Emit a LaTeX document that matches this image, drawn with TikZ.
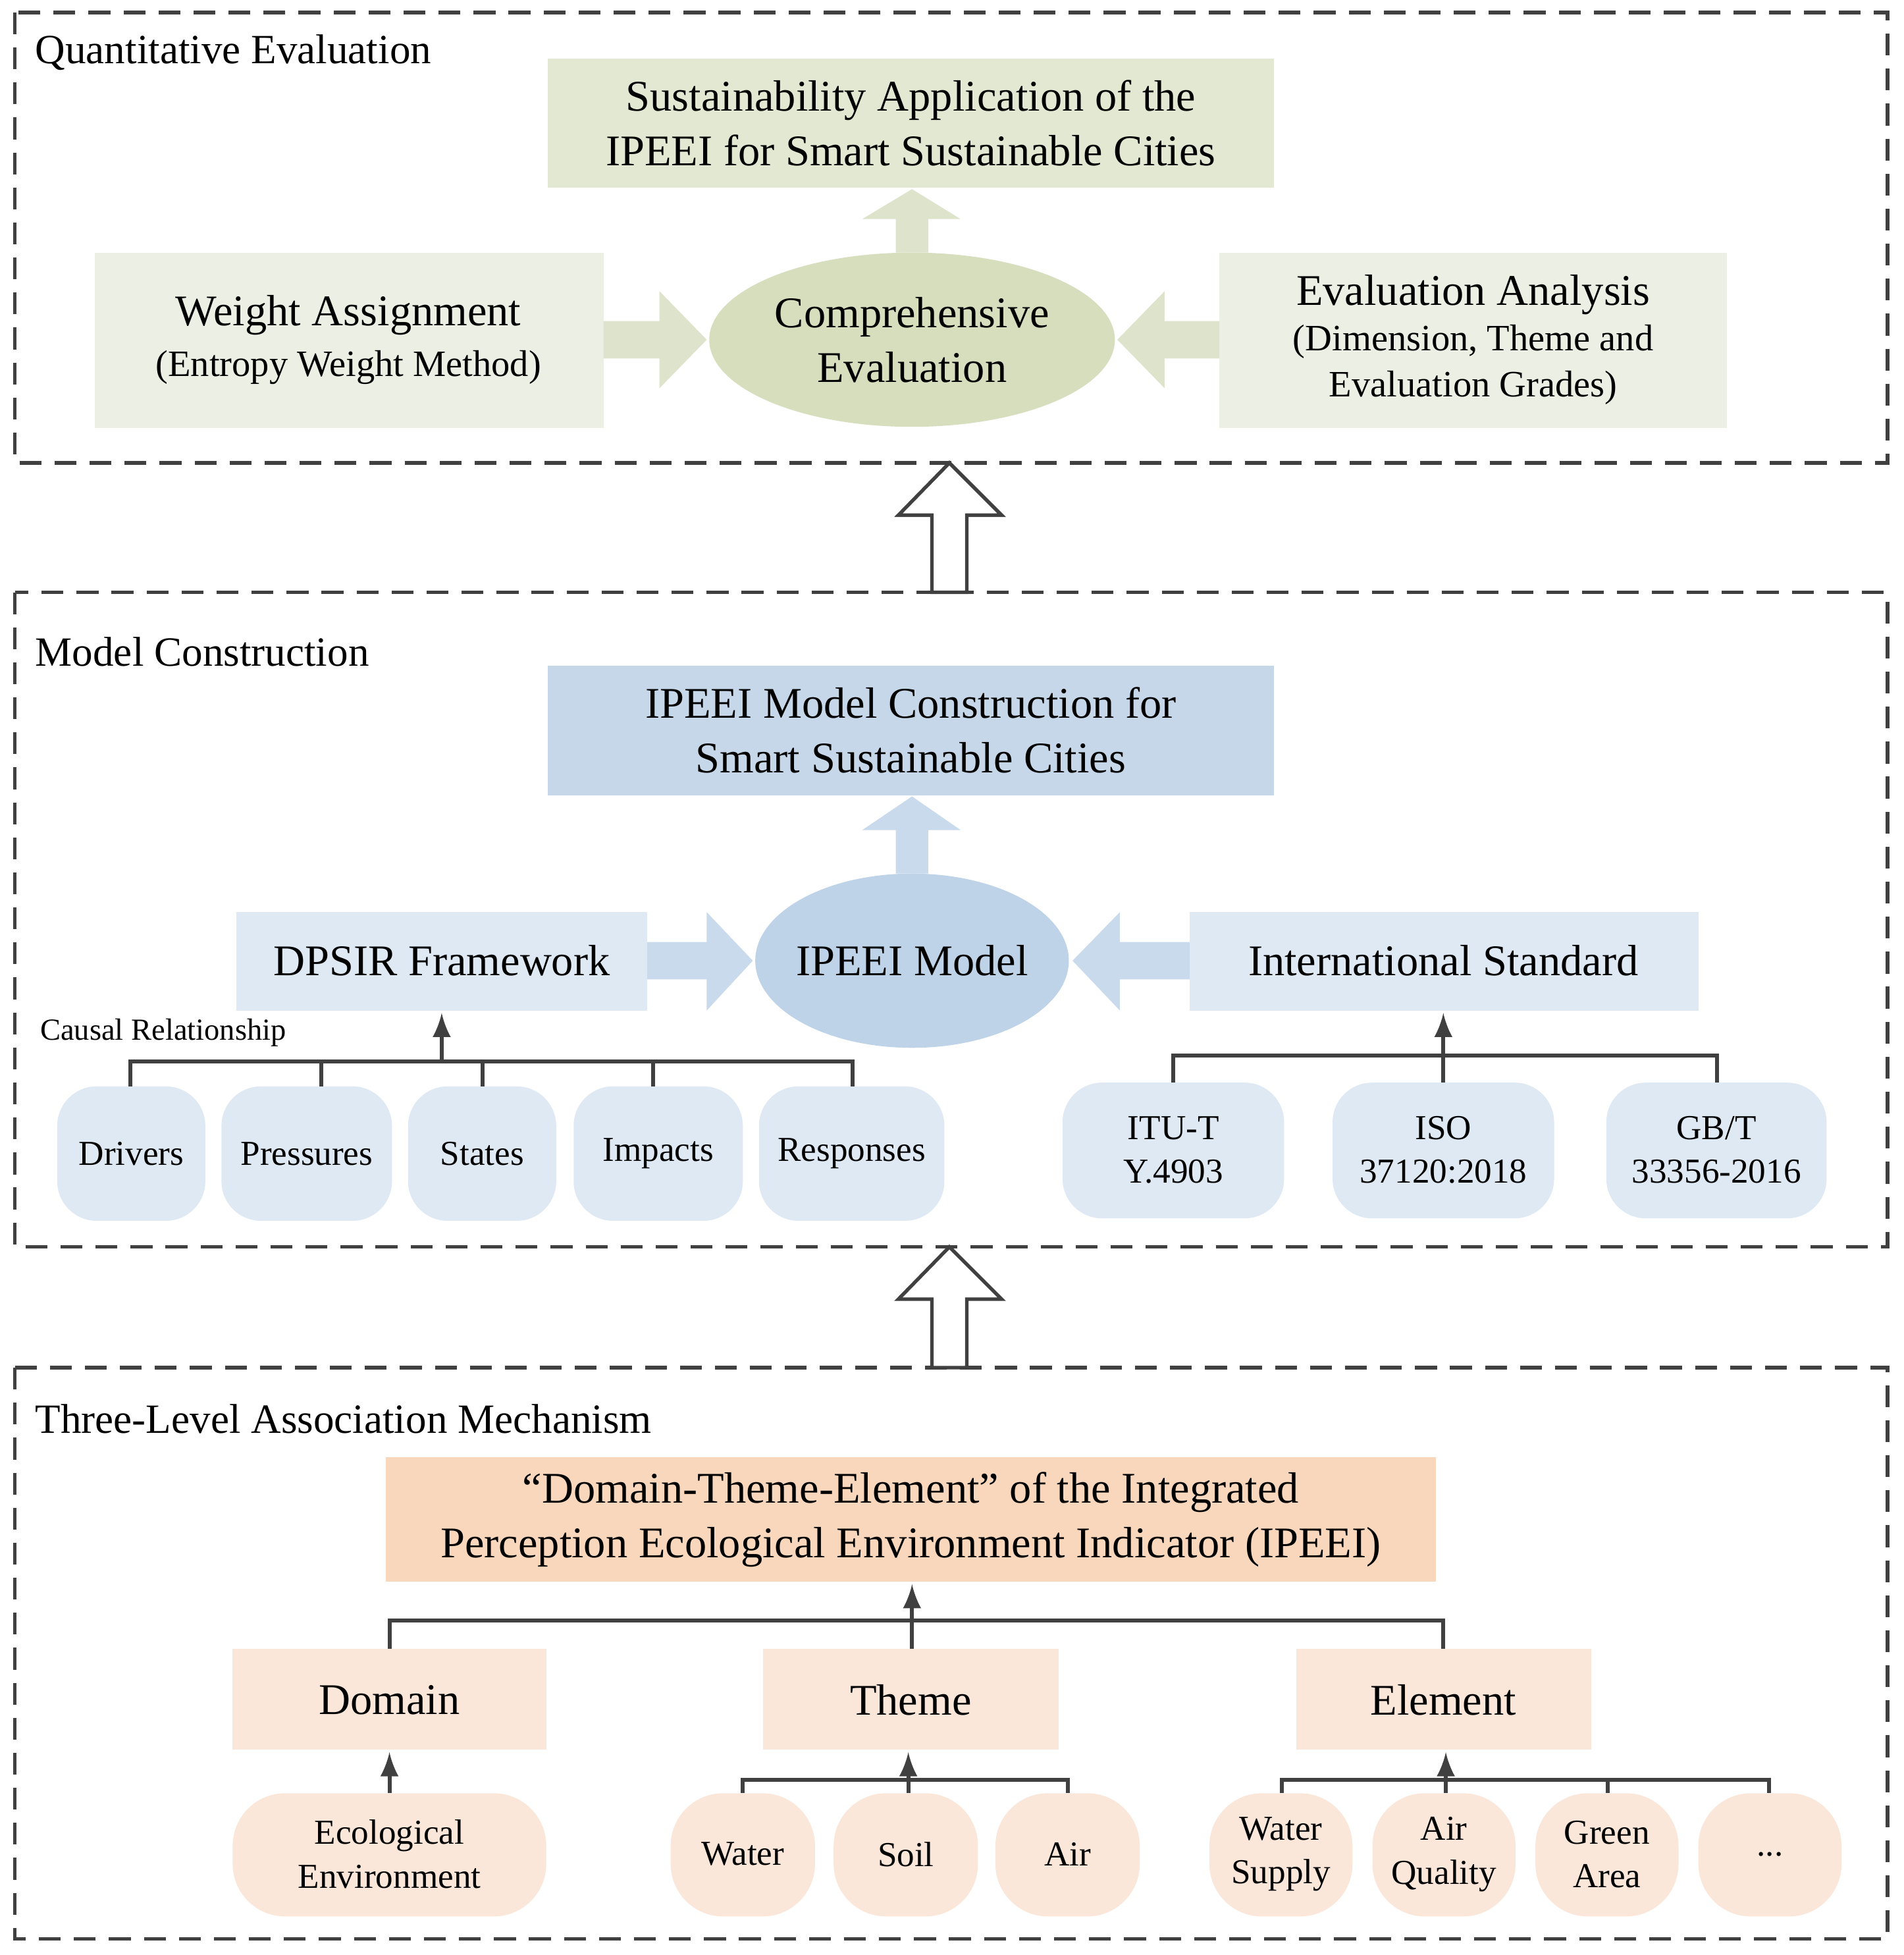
\documentclass[tikz,border=0pt]{standalone}
\usepackage{fontspec}
\setmainfont{Liberation Serif}
\usetikzlibrary{shapes.geometric}
\definecolor{gA}{RGB}{226,232,210}
\definecolor{gB}{RGB}{236,240,228}
\definecolor{gC}{RGB}{214,222,190}
\definecolor{gD}{RGB}{222,228,204}
\definecolor{bA}{RGB}{197,215,232}
\definecolor{bB}{RGB}{222,233,244}
\definecolor{bC}{RGB}{190,211,232}
\definecolor{bD}{RGB}{200,218,235}
\definecolor{oA}{RGB}{248,215,188}
\definecolor{oB}{RGB}{250,231,217}
\definecolor{ln}{RGB}{64,64,64}
\newcommand{\fz}[1]{\fontsize{#1pt}{\dimexpr #1pt*5/4\relax}\selectfont}
\tikzset{
 x=0.01cm,y=-0.01cm,
 frame/.style={draw=ln,dashed,line width=0.8pt,dash pattern=on 5pt off 3pt},
 title/.style={anchor=west,font=\fz{9.5}},
 box/.style={inner sep=0pt,align=center,font=\fz{10}},
 tree/.style={draw=ln,line width=0.9pt},
 up/.style={tree,-latex},
 hollow/.style={draw=ln,fill=white,line width=0.8pt},
}
\begin{document}
\begin{tikzpicture}
\useasboundingbox (0,0) rectangle (1530,1571);
\fill[white] (0,0) rectangle (1530,1571);
% frames
\draw[frame] (12,10) rectangle (1517,372);
\draw[frame] (12,476) rectangle (1517,1002);
\draw[frame] (12,1099) rectangle (1517,1558);
\node[title] (t1) at (16,42) {Quantitative Evaluation};
\node[title] (t2) at (16,524) {Model Construction};
\node[title] (t3) at (16,1140) {Three-Level Association Mechanism};
% hollow arrows
\draw[hollow] (749,476)--(749,414)--(722,414)--(763,372)--(805,414)--(777,414)--(777,476)--cycle;
\draw[hollow] (749,1099)--(749,1044)--(722,1044)--(763,1002)--(805,1044)--(777,1044)--(777,1099)--cycle;
% ---- top section
\path[fill=gA] (440,47) rectangle (1024,151);
\node[box] (sus) at (732,99) {Sustainability Application of the\\IPEEI for Smart Sustainable Cities};
\path[fill=gB] (76,203) rectangle (485,344);
\node[box] (wa) at (280,273) {Weight Assignment\\[-1pt]{\fz{8.5}(Entropy Weight Method)}};
\path[fill=gB] (980,203) rectangle (1388,344);
\node[box] (ea) at (1184,273) {Evaluation Analysis\\[-2pt]{\fz{8.5}(Dimension, Theme and}\\[-2pt]{\fz{8.5}Evaluation Grades)}};
\fill[gC] (733,273) ellipse [x radius=163,y radius=70];
\node[box] (ce) at (733,273) {Comprehensive\\Evaluation};
\fill[gD] (485,258)--(530,258)--(530,234)--(568,273)--(530,312)--(530,288)--(485,288)--cycle;
\fill[gD] (980,258)--(936,258)--(936,234)--(898,273)--(936,312)--(936,288)--(980,288)--cycle;
\fill[gD] (720,203)--(720,176)--(693,176)--(733,152)--(772,176)--(746,176)--(746,203)--cycle;
% ---- model section
\path[fill=bA] (440,535) rectangle (1024,639);
\node[box] (ipm) at (732,587) {IPEEI Model Construction for\\Smart Sustainable Cities};
\path[fill=bB] (190,733) rectangle (520,812);
\node[box] (dp) at (355,772) {DPSIR Framework};
\path[fill=bB] (956,733) rectangle (1365,812);
\node[box] (is) at (1160,772) {International Standard};
\fill[bC] (733,772) ellipse [x radius=126,y radius=70];
\node[box] (im) at (733,772) {IPEEI Model};
\fill[bD] (520,757)--(568,757)--(568,733)--(605,772)--(568,812)--(568,787)--(520,787)--cycle;
\fill[bD] (956,757)--(900,757)--(900,733)--(862,772)--(900,812)--(900,787)--(956,787)--cycle;
\fill[bD] (720,702)--(720,667)--(693,667)--(733,640)--(772,667)--(746,667)--(746,702)--cycle;
\node[anchor=west,font=\fz{7}] (cr) at (20,830) {Causal Relationship};
\foreach \n/\a/\b/\t in {d/46/165/Drivers,p/178/315/Pressures,s/328/447/States,i/461/597/Impacts,r/610/759/Responses}{
 \path[fill=bB,rounded corners=9pt] (\a,873) rectangle (\b,981);
 \node[font=\fz{8}] (\n) at ({(\a+\b)/2},927) {\t};}
\draw[tree] (105,873)--(105,853)--(685,853)--(685,873);
\draw[tree] (258,853)--(258,873); \draw[tree] (388,853)--(388,873); \draw[tree] (525,853)--(525,873);
\draw[up] (355,853)--(355,814);
\foreach \n/\a/\b/\t in {itu/854/1032/{ITU-T\\Y.4903},iso/1071/1249/{ISO\\37120:2018},gb/1291/1468/{GB/T\\33356-2016}}{
 \path[fill=bB,rounded corners=9pt] (\a,870) rectangle (\b,979);
 \node[font=\fz{8},align=center] (\n) at ({(\a+\b)/2},924) {\t};}
\draw[tree] (943,870)--(943,848)--(1380,848)--(1380,870);
\draw[up] (1160,870)--(1160,814);
% ---- bottom section
\path[fill=oA] (310,1171) rectangle (1154,1271);
\node[box] (dte) at (732,1221) {``Domain-Theme-Element'' of the Integrated\\Perception Ecological Environment Indicator (IPEEI)};
\path[fill=oB] (187,1325) rectangle (439,1406); \node[box] (dom) at (313,1366) {Domain};
\path[fill=oB] (613,1325) rectangle (851,1406); \node[box] (the) at (732,1366) {Theme};
\path[fill=oB] (1042,1325) rectangle (1279,1406); \node[box] (ele) at (1160,1366) {Element};
\draw[tree] (313,1325)--(313,1302)--(1160,1302)--(1160,1325);
\draw[up] (733,1325)--(733,1273);
\path[fill=oB,rounded corners=12pt] (187,1441) rectangle (439,1540);
\node[font=\fz{8},align=center] (eco) at (313,1490) {Ecological\\Environment};
\draw[up] (313,1441)--(313,1408);
\foreach \n/\a/\b/\t in {wat/539/655/Water,so/670/786/Soil,ai/800/916/Air,ws/972/1087/{Water\\Supply},aq/1103/1218/{Air\\Quality},gr/1234/1349/{Green\\Area},dt/1365/1480/{...}}{
 \path[fill=oB,rounded corners=12pt] (\a,1441) rectangle (\b,1540);
 \node[font=\fz{8},align=center] (\n) at ({(\a+\b)/2},1490) {\t};}
\draw[tree] (597,1441)--(597,1430)--(858,1430)--(858,1441);
\draw[up] (730,1441)--(730,1408);
\draw[tree] (1030,1441)--(1030,1430)--(1422,1430)--(1422,1441);
\draw[tree] (1292,1430)--(1292,1441);
\draw[up] (1162,1441)--(1162,1408);
\end{tikzpicture}
\end{document}
